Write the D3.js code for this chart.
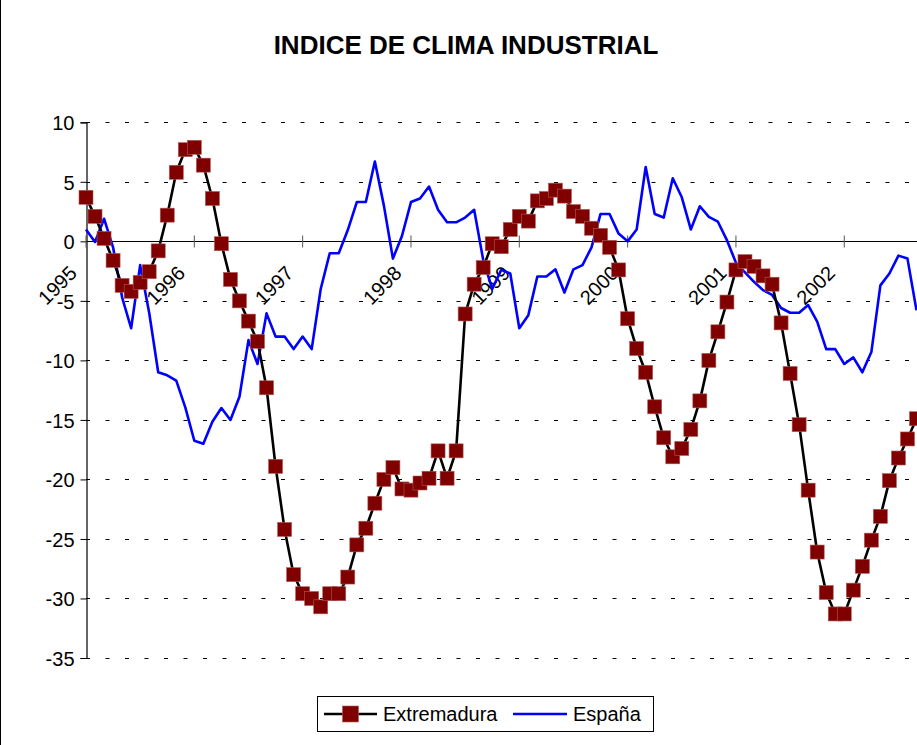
<!DOCTYPE html>
<html>
<head>
<meta charset="utf-8">
<script src="https://cdn.jsdelivr.net/npm/d3@7"></script>
<style>
  html, body { margin: 0; padding: 0; background: #fff; }
  svg { display: block; font-family: "Liberation Sans", Arial, sans-serif; }
</style>
</head>
<body>
<svg id="chart" width="917" height="745"></svg>
<script>
const title = "INDICE DE CLIMA INDUSTRIAL";
const years = ["1995", "1996", "1997", "1998", "1999", "2000", "2001", "2002"];
const yTicks = [10, 5, 0, -5, -10, -15, -20, -25, -30, -35];
const seriesNames = ["Extremadura", "España"];

// monthly values from January 1995
const extremadura = [
  3.7, 2.1, 0.25, -1.6, -3.7, -4.2, -3.45, -2.55, -0.8, 2.2, 5.8, 7.7,
  7.9, 6.4, 3.6, -0.2, -3.2, -5.0, -6.7, -8.4, -12.3, -18.9, -24.2, -28.0,
  -29.6, -30.0, -30.7, -29.6, -29.6, -28.2, -25.5, -24.1, -22.0, -20.0, -19.0, -20.8,
  -20.9, -20.3, -19.9, -17.6, -19.9, -17.6, -6.1, -3.6, -2.2, -0.2, -0.45, 1.0,
  2.1, 1.7, 3.4, 3.6, 4.3, 3.8, 2.5, 2.1, 1.1, 0.5, -0.5, -2.4,
  -6.5, -9.0, -11.0, -13.9, -16.5, -18.1, -17.4, -15.8, -13.4, -10.0, -7.6, -5.1,
  -2.4, -1.7, -2.1, -2.9, -3.6, -6.85, -11.1, -15.4, -20.9, -26.1, -29.5, -31.3,
  -31.3, -29.3, -27.3, -25.1, -23.1, -20.1, -18.2, -16.6, -14.9
];
const espana = [
  1.0, -0.05, 1.9, -0.5, -4.7, -7.3, -2.0, -6.0, -11.0, -11.25, -11.7, -13.95,
  -16.75, -17.0, -15.15, -14.0, -15.0, -13.05, -8.3, -10.3, -6.05, -8.0, -8.0, -9.05,
  -8.0, -9.05, -4.0, -1.0, -1.0, 0.95, 3.3, 3.3, 6.7, 3.0, -1.45, 0.45,
  3.3, 3.6, 4.6, 2.65, 1.6, 1.6, 2.0, 2.65, -1.55, -4.0, -2.4, -2.7,
  -7.3, -6.2, -2.95, -2.95, -2.35, -4.3, -2.35, -2.0, -0.5, 2.3, 2.3, 0.65,
  0.0, 1.0, 6.25, 2.3, 2.0, 5.3, 3.7, 1.0, 2.95, 2.05, 1.65, 0.1,
  -1.8, -2.6, -3.4, -4.1, -4.5, -5.6, -6.0, -6.0, -5.35, -6.75, -9.05, -9.05,
  -10.3, -9.75, -11.0, -9.3, -3.7, -2.7, -1.2, -1.45, -5.8
];

const svg = d3.select("#chart");
const W = 917, H = 745;

// chart area border (left edge visible)
svg.append("line").attr("x1", 0.5).attr("x2", 0.5).attr("y1", 0).attr("y2", H)
  .attr("stroke", "#000").attr("stroke-width", 1);

const x = d3.scaleLinear().domain([0, 96]).range([86, 952.6]);
const y = d3.scaleLinear().domain([-35, 10]).range([658, 122.3]);

// title
svg.append("text")
  .attr("x", 466).attr("y", 54)
  .attr("text-anchor", "middle")
  .attr("font-size", 26).attr("font-weight", "bold")
  .text(title);

// gridlines
svg.append("g").selectAll("line").data(yTicks.filter(d => d !== 0)).join("line")
  .attr("x1", 86).attr("x2", W)
  .attr("y1", d => Math.round(y(d)) + 0.5).attr("y2", d => Math.round(y(d)) + 0.5)
  .attr("stroke", "#000").attr("stroke-width", 1)
  .attr("stroke-dasharray", "4,15.5");

// y axis
const yAxis = d3.axisLeft(y).tickValues(yTicks).tickSize(6).tickPadding(6)
  .tickFormat(d => String(d));
const gy = svg.append("g").attr("transform", "translate(86.5,0)").call(yAxis);
gy.select(".domain").attr("stroke", "#000").attr("stroke-width", 1.2);
gy.selectAll(".tick line").attr("stroke", "#000");
gy.selectAll(".tick text").attr("font-size", 20).attr("fill", "#000")
  .attr("font-family", "'Liberation Sans', Arial, sans-serif").attr("dy", "0.36em");

// x axis at y=0
const y0 = Math.round(y(0)) + 0.5;
svg.append("line").attr("x1", 86).attr("x2", W).attr("y1", y0).attr("y2", y0)
  .attr("stroke", "#000").attr("stroke-width", 1.2);
const yearIdx = years.map((d, i) => i * 12);
svg.append("g").selectAll("line").data(yearIdx).join("line")
  .attr("x1", d => x(d)).attr("x2", d => x(d))
  .attr("y1", y0 - 6).attr("y2", y0 + 6)
  .attr("stroke", "#555").attr("stroke-width", 1);
svg.append("g").selectAll("text").data(years).join("text")
  .attr("transform", (d, i) => `translate(${x(i * 12) - 8},${y0 + 33}) rotate(-45)`)
  .attr("text-anchor", "end")
  .attr("font-size", 20)
  .text(d => d);

// lines
const line = d3.line().x((d, i) => x(i)).y(d => y(d));
svg.append("path").datum(espana)
  .attr("d", line).attr("fill", "none")
  .attr("stroke", "#0000ff").attr("stroke-width", 2.6).attr("stroke-linejoin", "round");
svg.append("path").datum(extremadura)
  .attr("d", line).attr("fill", "none")
  .attr("stroke", "#000").attr("stroke-width", 2.6).attr("stroke-linejoin", "round");
const ms = 14;
svg.append("g").selectAll("rect").data(extremadura).join("rect")
  .attr("x", (d, i) => x(i) - ms / 2).attr("y", d => y(d) - ms / 2)
  .attr("width", ms).attr("height", ms)
  .attr("fill", "#800000").attr("stroke", "#b05a5a").attr("stroke-width", 0.6);

// legend
const lg = svg.append("g");
lg.append("rect").attr("x", 317.5).attr("y", 696.5).attr("width", 336).attr("height", 35)
  .attr("fill", "#fff").attr("stroke", "#000").attr("stroke-width", 1);
lg.append("line").attr("x1", 324).attr("x2", 377).attr("y1", 714).attr("y2", 714)
  .attr("stroke", "#000").attr("stroke-width", 2.6);
lg.append("rect").attr("x", 350.5 - 8).attr("y", 714 - 8).attr("width", 16).attr("height", 16)
  .attr("fill", "#800000").attr("stroke", "#b05a5a").attr("stroke-width", 0.6);
lg.append("text").attr("x", 383).attr("y", 721).attr("font-size", 20).text(seriesNames[0]);
lg.append("line").attr("x1", 513).attr("x2", 567).attr("y1", 714).attr("y2", 714)
  .attr("stroke", "#0000ff").attr("stroke-width", 2.6);
lg.append("text").attr("x", 573).attr("y", 721).attr("font-size", 20).text(seriesNames[1]);
</script>
</body>
</html>
